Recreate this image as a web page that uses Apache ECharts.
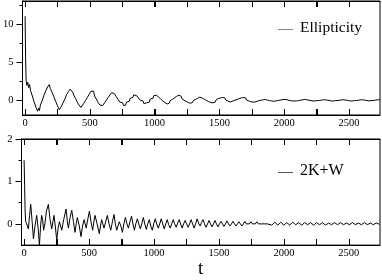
<!DOCTYPE html>
<html><head><meta charset="utf-8">
<script src="https://cdn.jsdelivr.net/npm/echarts@6/dist/echarts.min.js"></script>
<style>html,body{margin:0;padding:0;background:#fff}#c{width:382px;height:280px}</style>
</head><body><div id="c"></div>
<script>
var xMajorLabels = [0, 500, 1000, 1500, 2000, 2500];
var xTicks = [0, 250, 500, 750, 1000, 1250, 1500, 1750, 2000, 2250, 2500];
var yTopLabels = [0, 5, 10];
var yTopMinor = [2.5, 7.5, 12.5];
var yBotLabels = [0, 1, 2];
var yBotMinor = [0.5, 1.5];
var seriesNames = ['Ellipticity', '2K+W'];

var ellipticity = [
[0,11.0],[4,5.5],[8,2.5],[14,1.9],[21,2.3],[28,1.6],[35,2.0],[42,1.2],[49,1.4],[56,0.5],[63,0.6],[70,-0.3],[77,-0.1],[84,-1.0],[91,-0.9],[97,-1.5],
[104,-1.1],[111,-1.4],[118,-0.7],[125,-0.9],[132,-0.1],[139,-0.2],[146,0.6],[153,0.4],[160,1.2],[167,1.0],[174,1.7],[181,1.5],[187,2.0],
[194,1.5],[201,1.7],[208,1.0],[215,1.2],[222,0.4],[229,0.6],[236,-0.2],[243,0.0],[250,-0.8],[257,-0.6],[264,-1.3],[272,-1.2],
[279,-0.9],[286,-1.15],[293,-0.4],[300,-0.6],[307,0.1],[314,-0.1],[321,0.7],[328,0.5],[335,1.1],[342,0.9],[348,1.4],[354,1.25],
[361,1.35],[368,1.0],[375,0.65],[382,0.85],[389,0.2],[396,0.4],[403,-0.3],[410,-0.1],[417,-0.7],[424,-0.5],[431,-1.0],[438,-0.85],
[445,-0.95],[452,-0.5],[459,-0.7],[466,-0.1],[473,-0.3],[480,0.3],[487,0.15],[494,0.7],[501,0.55],[508,1.1],[515,1.3],
[522,1.0],[529,1.15],[536,0.5],[543,0.7],[550,0.1],[557,0.3],[564,-0.35],[571,-0.15],[578,-0.7],[585,-0.5],[592,-0.9],[599,-0.75],
[606,-0.85],[613,-0.4],[620,-0.55],[627,-0.05],[634,-0.2],[641,0.3],[648,0.15],[655,0.65],[662,0.5],[669,0.95],[676,0.8],[683,1.1],
[690,0.8],[697,0.95],[704,0.4],[711,0.6],[718,0.05],[725,0.25],[732,-0.3],[739,-0.1],[746,-0.55],[753,-0.4],[760,-0.75],[769,-0.6],
[776,-0.7],[783,-0.3],[790,-0.45],[797,-0.05],[804,-0.2],[811,0.2],[818,0.05],[825,0.45],[832,0.3],[839,0.65],[846,0.5],[854,0.8],
[861,0.55],[868,0.7],[875,0.25],[882,0.4],[889,-0.05],[896,0.1],[903,-0.3],[910,-0.15],[917,-0.5],[924,-0.35],[931,-0.65],
[938,-0.4],[945,-0.55],[952,-0.15],[959,-0.3],[966,0.1],[973,-0.05],[980,0.35],[987,0.2],[994,0.55],[1001,0.4],[1008,0.75],[1015,0.6],
[1023,0.65],[1031,0.35],[1039,0.45],[1047,0.1],[1055,0.2],[1063,-0.15],[1071,-0.05],[1079,-0.35],[1087,-0.25],[1097,-0.55],
[1105,-0.35],[1113,-0.45],[1121,-0.1],[1129,-0.25],[1137,0.05],[1145,-0.05],[1153,0.25],[1161,0.15],[1169,0.45],[1177,0.35],[1187,0.6],
[1195,0.4],[1203,0.5],[1211,0.15],[1219,0.3],[1227,-0.05],[1235,0.05],[1243,-0.2],[1251,-0.1],[1259,-0.35],[1267,-0.25],[1277,-0.45],
[1285,-0.25],[1293,-0.35],[1301,-0.05],[1309,-0.2],[1317,0.05],[1325,-0.05],[1333,0.2],[1341,0.1],[1349,0.35],[1355,0.25],[1362,0.45],
[1370,0.2],[1378,0.35],[1386,0.05],[1394,0.15],[1402,-0.1],[1410,0.0],[1418,-0.25],[1426,-0.1],[1434,-0.35],[1443,-0.25],
[1451,-0.4],[1459,-0.15],[1467,-0.3],[1475,0.0],[1483,-0.1],[1491,0.15],[1499,0.0],[1507,0.25],[1515,0.1],[1526,0.3],
[1534,0.1],[1542,0.25],[1550,-0.05],[1558,0.1],[1566,-0.15],[1574,-0.05],[1582,-0.3],[1590,-0.15],[1597,-0.35],
[1605,-0.15],[1613,-0.3],[1621,-0.05],[1629,-0.2],[1637,0.05],[1645,-0.05],[1653,0.15],[1661,0.0],[1669,0.25],[1677,0.1],[1687,0.3],
[1695,0.1],[1703,0.25],[1711,-0.05],[1719,0.1],[1727,-0.15],[1735,0.0],[1743,-0.25],[1751,-0.1],[1759,-0.3],[1767,-0.2],
[1775,-0.3],[1783,-0.05],[1791,-0.2],[1799,0.0],[1807,-0.1],[1815,0.1],[1823,-0.05],[1831,0.15],[1839,0.0],[1847,0.2],[1855,0.05],
[1863,0.2],[1871,-0.05],[1879,0.1],[1887,-0.1],[1895,0.05],[1903,-0.15],[1911,0.0],[1919,-0.2],[1927,-0.05],[1935,-0.15],
[1943,0.0],[1951,-0.1],[1959,0.1],[1967,-0.05],[1975,0.15],[1983,0.0],[1991,0.2],[1999,0.05],[2007,0.2],[2015,0.05],
[2023,0.15],[2031,-0.05],[2039,0.1],[2047,-0.1],[2055,0.05],[2063,-0.15],[2071,0.0],[2079,-0.15],[2087,0.0],[2095,-0.15],
[2103,0.05],[2111,-0.1],[2119,0.1],[2127,-0.05],[2135,0.15],[2143,0.0],[2151,0.2],[2159,0.05],[2167,0.2],[2175,0.0],
[2183,0.15],[2191,-0.05],[2199,0.1],[2207,-0.1],[2215,0.05],[2223,-0.15],[2231,0.0],[2239,-0.15],[2247,0.0],[2255,-0.1],
[2263,0.05],[2271,-0.1],[2279,0.1],[2287,-0.05],[2295,0.15],[2303,0.0],[2311,0.15],[2319,0.0],[2327,0.15],[2335,-0.05],
[2343,0.1],[2351,-0.1],[2359,0.05],[2367,-0.15],[2375,0.0],[2383,-0.15],[2391,0.0],[2399,-0.1],[2407,0.05],[2415,-0.1],
[2423,0.1],[2431,-0.05],[2439,0.15],[2447,0.0],[2455,0.15],[2463,0.0],[2471,0.1],[2479,-0.05],[2487,0.1],[2495,-0.1],
[2503,0.05],[2511,-0.15],[2519,0.0],[2527,-0.15],[2535,0.0],[2543,-0.1],[2551,0.05],[2559,-0.1],[2567,0.1],[2575,-0.05],
[2583,0.15],[2591,0.0],[2599,0.15],[2607,0.0],[2615,0.1],[2623,-0.05],[2631,0.1],[2639,-0.1],[2647,0.05],[2655,-0.15],
[2663,0.0],[2671,-0.1],[2679,0.0],[2687,-0.1],[2695,0.05],[2703,-0.05],[2711,0.1],[2719,0.0],[2727,0.1],[2735,0.0],[2740,0.05]
];

var energy = [
[0,1.5],[4,0.9],[8,0.3],[12,0.05],[20,0.0],[33,-0.12],[42,0.2],[51,0.46],[62,0.05],[72,-0.35],[84,-0.05],[97,0.2],[108,-0.1],[118,-0.5],
[127,-0.05],[135,0.2],[143,0.1],[150,-0.15],[160,0.0],[172,0.3],[187,0.46],[200,0.1],[213,-0.12],[222,0.05],[230,0.2],[240,-0.05],
[251,-0.38],[262,-0.1],[272,0.05],[281,-0.05],[290,-0.15],[305,0.1],[323,0.35],[333,0.05],[341,-0.1],[354,0.15],[367,0.32],[380,0.05],
[392,-0.2],[401,0.0],[410,0.15],[425,-0.05],[438,-0.3],[450,-0.05],[462,0.1],[470,0.0],[478,-0.1],[490,0.1],[503,0.3],[515,0.05],
[528,-0.15],[537,0.05],[546,0.2],[562,0.0],[579,-0.23],[588,-0.05],[597,0.1],[606,0.0],[615,-0.1],[628,0.05],[641,0.2],[654,0.0],
[667,-0.15],[680,0.05],[692,0.22],[703,0.0],[713,-0.15],[723,-0.05],[733,0.05],[745,-0.05],[757,-0.2],[768,0.0],[780,0.15],[792,0.0],
[803,-0.1],[815,0.05],[827,0.18],[838,0.0],[849,-0.15],[860,0.0],[872,0.12],[883,0.0],[895,-0.12],[906,0.0],[918,0.15],[929,0.0],
[941,-0.13],[952,0.0],[964,0.1],[975,-0.05],[987,-0.15],[998,0.0],[1010,0.12],[1021,0.0],[1033,-0.1],[1044,0.0],[1056,0.12],[1067,0.0],
[1079,-0.12],[1090,0.0],[1102,0.1],[1113,-0.02],[1125,-0.1],[1136,0.0],[1148,0.1],[1159,0.0],[1171,-0.08],[1182,0.02],[1194,0.1],[1205,0.0],
[1217,-0.1],[1228,0.0],[1240,0.08],[1251,0.0],[1263,-0.08],[1274,0.0],[1286,0.1],[1297,0.0],[1309,-0.1],[1320,0.0],[1332,0.12],[1343,0.02],
[1355,-0.05],[1366,0.03],[1378,0.1],[1389,0.0],[1401,-0.08],[1412,0.0],[1424,0.08],[1435,0.0],[1447,-0.07],[1458,0.0],[1470,0.08],[1481,0.0],
[1493,-0.07],[1504,0.0],[1516,0.06],[1527,0.0],[1539,-0.06],[1550,0.0],[1562,0.07],[1573,0.0],[1585,-0.05],[1596,0.0],[1608,0.06],[1619,0.0],
[1631,-0.05],[1642,0.0],[1654,0.05],[1665,0.0],[1677,-0.05],[1688,0.0],[1700,0.06],[1711,0.0],[1723,-0.04],[1734,0.0],[1746,0.05],[1757,0.0],
[1769,-0.04],[1780,0.0],[1792,0.05],[1803,0.0],[1815,-0.04],[1826,0.0],[1838,0.04],[1849,0.0],[1861,-0.04],[1872,0.0],[1884,0.04],
[1907,-0.03],[1930,0.04],[1953,-0.03],[1976,0.04],[1999,-0.03],[2022,0.03],[2045,-0.03],[2068,0.04],[2091,-0.02],[2114,0.03],[2137,-0.03],
[2160,0.03],[2183,-0.02],[2206,0.03],[2229,-0.03],[2252,0.03],[2275,-0.02],[2298,0.03],[2321,-0.03],[2344,0.02],[2367,-0.02],[2390,0.03],
[2413,-0.02],[2436,0.03],[2459,-0.02],[2482,0.02],[2505,-0.02],[2528,0.03],[2551,-0.02],[2574,0.02],[2597,-0.02],[2620,0.03],[2643,-0.02],
[2666,0.02],[2689,-0.02],[2712,0.02],[2735,-0.01]
];

var FONT = 'Liberation Serif';
var chart = echarts.init(document.getElementById('c'), null, {renderer: 'canvas'});

function fmt(v) { return String(v); }

function xAx(gi, pos, labels, name) {
  var ax = {
    type: 'value', gridIndex: gi, position: pos, min: -20, max: 2740, z: 10,
    splitLine: {show: false}, axisLine: {show: true, onZero: false, lineStyle: {color: '#000', width: 1}},
    axisTick: {show: true, inside: true, length: 6, customValues: xTicks, lineStyle: {color: '#000', width: 1}},
    axisLabel: labels ? {show: true, customValues: xMajorLabels, formatter: fmt, margin: 3, color: '#000', fontFamily: FONT, fontSize: 10.5} : {show: false}
  };
  if (name) {
    ax.name = name; ax.nameLocation = 'middle'; ax.nameGap = 8;
    ax.nameTextStyle = {fontFamily: FONT, fontSize: 19, color: '#000', verticalAlign: 'top'};
  }
  return ax;
}
function yAx(gi, mn, mx, vals, len, labels) {
  return {
    type: 'value', gridIndex: gi, position: 'left', min: mn, max: mx, z: 10,
    splitLine: {show: false}, axisLine: {show: true, onZero: false, lineStyle: {color: '#000', width: 1}},
    axisTick: {show: true, inside: false, length: len, customValues: vals, lineStyle: {color: '#000', width: 1}},
    axisLabel: labels ? {show: true, customValues: vals, formatter: fmt, margin: 9, color: '#000', fontFamily: FONT, fontSize: 10.5} : {show: false}
  };
}

// tick marks on the top and bottom frame, placed through the x scale
function tickItem(params, api) {
  var x = Math.round(api.coord([api.value(0), 0])[0]) + 0.5;
  var cs = params.coordSys;
  var L = 6;
  var b = cs.y + cs.height, t = cs.y;
  return {type: 'group', children: [
    {type: 'line', shape: {x1: x, y1: b, x2: x, y2: b - L}, style: {stroke: '#000', lineWidth: 1}},
    {type: 'line', shape: {x1: x, y1: t, x2: x, y2: t + L}, style: {stroke: '#000', lineWidth: 1}}
  ]};
}
var tickData = xTicks.map(function (v) { return [v, 0]; });

chart.setOption({
  animation: false,
  backgroundColor: '#fff',
  grid: [
    {left: 21.5, top: 1, width: 358.5, height: 114, show: true, borderColor: '#000', borderWidth: 1, backgroundColor: 'transparent', z: 0},
    {left: 21.5, top: 139, width: 358.5, height: 115, show: true, borderColor: '#000', borderWidth: 1, backgroundColor: 'transparent', z: 0}
  ],
  xAxis: [
    xAx(0, 'bottom', true), xAx(0, 'top', false),
    xAx(1, 'bottom', true, 't'), xAx(1, 'top', false)
  ],
  yAxis: [
    yAx(0, -2, 13, yTopLabels, 6, true), yAx(0, -2, 13, yTopMinor, 3, false),
    yAx(1, -0.5, 2, yBotLabels, 6, true), yAx(1, -0.5, 2, yBotMinor, 3, false)
  ],
  graphic: [
    {type: 'line', shape: {x1: 278, y1: 29.5, x2: 293, y2: 29.5}, style: {stroke: '#888', lineWidth: 1}},
    {type: 'text', left: 300, top: 20, style: {text: seriesNames[0], font: '15.5px "Liberation Serif"', fill: '#000'}},
    {type: 'line', shape: {x1: 278, y1: 172.5, x2: 293, y2: 172.5}, style: {stroke: '#555', lineWidth: 1}},
    {type: 'text', left: 300, top: 163, style: {text: seriesNames[1], font: '16px "Liberation Serif"', fill: '#000'}}
  ],
  series: [
    {name: seriesNames[0], type: 'line', xAxisIndex: 0, yAxisIndex: 0, data: ellipticity, showSymbol: false, symbol: 'none',
     lineStyle: {color: '#000', width: 1}, itemStyle: {color: '#000'}},
    {name: seriesNames[1], type: 'line', xAxisIndex: 2, yAxisIndex: 2, data: energy, showSymbol: false, symbol: 'none',
     lineStyle: {color: '#000', width: 1}, itemStyle: {color: '#000'}},
    {type: 'custom', xAxisIndex: 0, yAxisIndex: 0, data: tickData, renderItem: tickItem, clip: false, silent: true, z: 5},
    {type: 'custom', xAxisIndex: 2, yAxisIndex: 2, data: tickData, renderItem: tickItem, clip: false, silent: true, z: 5}
  ]
});
</script>
</body></html>
